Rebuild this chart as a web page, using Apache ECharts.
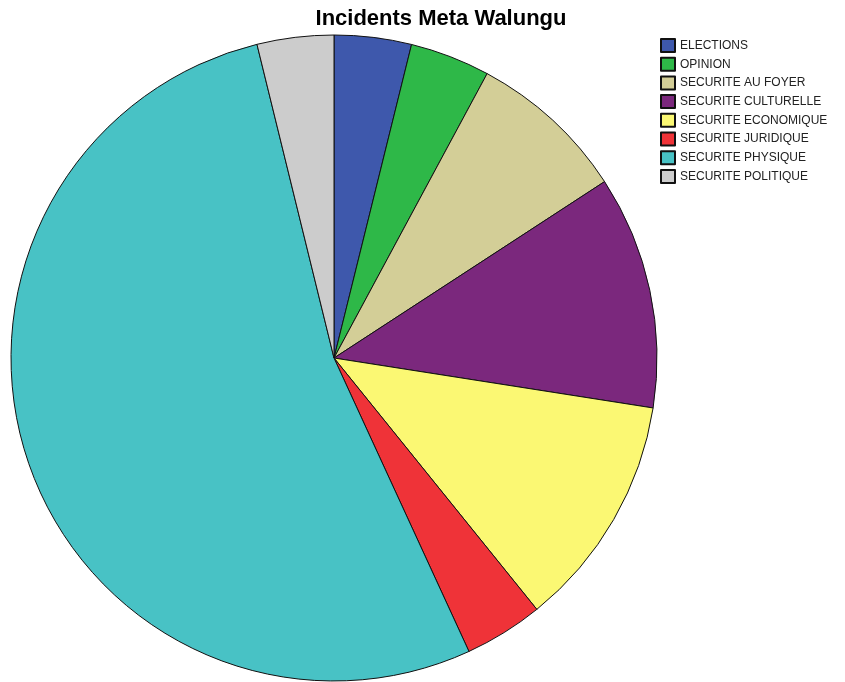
<!DOCTYPE html>
<html>
<head>
<meta charset="utf-8">
<script src="https://cdn.jsdelivr.net/npm/echarts@6/dist/echarts.min.js"></script>
<style>
  html, body { margin: 0; padding: 0; background: #fff; }
  #chart { width: 845px; height: 682px; }
</style>
</head>
<body>
<div id="chart"></div>
<script>
// slice sizes (share of the circle, in degrees)
const categories = ['ELECTIONS', 'OPINION', 'SECURITE AU FOYER', 'SECURITE CULTURELLE',
  'SECURITE ECONOMIQUE', 'SECURITE JURIDIQUE', 'SECURITE PHYSIQUE', 'SECURITE POLITIQUE']
const values = [13.9, 14.4, 28.6, 42.0, 42.2, 14.2, 190.9, 13.8]
const colors = ['#3e58ac', '#2eb848', '#d3ce97', '#7b287d', '#fbf873', '#ef3338', '#48c2c5', '#cccccc']

const chart = echarts.init(document.getElementById('chart'))

const seriesData = categories.map((name, i) => ({
  name: name,
  value: values[i],
  itemStyle: { color: colors[i] }
}))

chart.setOption({
  animation: false,
  title: {
    text: 'Incidents Meta Walungu',
    left: 441,
    top: 8,
    padding: 0,
    textAlign: 'center',
    textStyle: {
      fontFamily: 'Liberation Sans, Arial, sans-serif',
      fontSize: 22,
      fontWeight: 'bold',
      color: '#000'
    }
  },
  legend: {
    orient: 'vertical',
    left: 660,
    top: 38,
    padding: 0,
    itemWidth: 14,
    itemHeight: 13,
    itemGap: 3.7,
    icon: 'rect',
    data: categories,
    textStyle: {
      fontFamily: 'Liberation Sans, Arial, sans-serif',
      fontSize: 12,
      color: '#222'
    }
  },
  series: [{
    type: 'pie',
    center: [334, 358],
    radius: 323,
    startAngle: 90,
    clockwise: true,
    label: { show: false },
    labelLine: { show: false },
    emphasis: { disabled: true },
    itemStyle: { borderColor: '#111', borderWidth: 1 },
    data: seriesData
  }]
})
</script>
</body>
</html>
